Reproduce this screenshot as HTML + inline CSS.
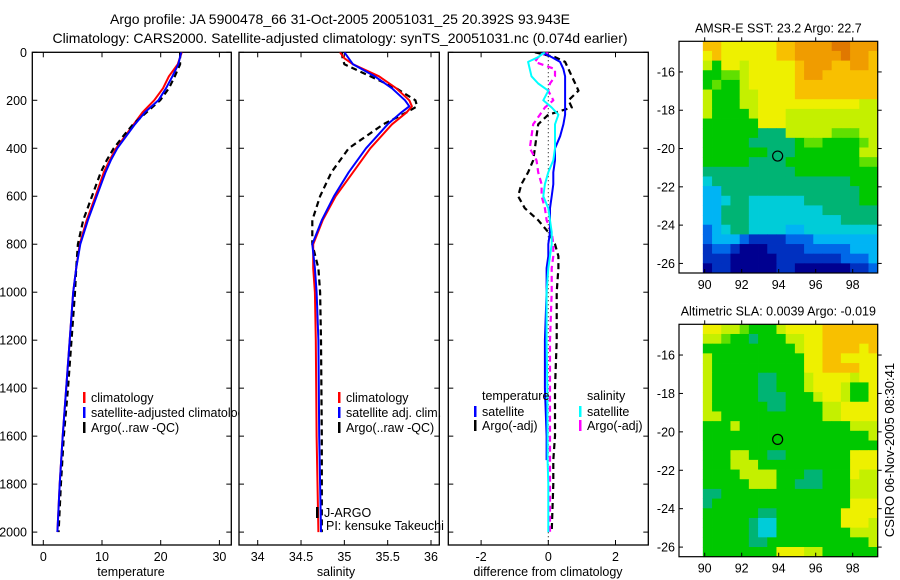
<!DOCTYPE html>
<html><head><meta charset="utf-8"><style>
html,body{margin:0;padding:0;background:#fff;}
svg{display:block;font-family:"Liberation Sans",Arial,sans-serif;}
</style></head><body>
<svg id="fig" width="900" height="580" viewBox="0 0 900 580">
<text x="340" y="24" font-size="14" text-anchor="middle">Argo profile: JA 5900478_66 31-Oct-2005 20051031_25 20.392S 93.943E</text>
<text x="340" y="43" font-size="14" text-anchor="middle">Climatology: CARS2000. Satellite-adjusted climatology: synTS_20051031.nc (0.074d earlier)</text>
<defs>
<clipPath id="c1"><rect x="32.3" y="52.3" width="199" height="492.7"/></clipPath>
<clipPath id="c1l"><rect x="32.3" y="52.3" width="207" height="492.7"/></clipPath>
<clipPath id="c2"><rect x="239" y="52.3" width="200.3" height="492.7"/></clipPath>
<clipPath id="c3"><rect x="448.3" y="52.3" width="200" height="492.7"/></clipPath>
</defs>
<g id="p1"></g>
<g id="p2"></g>
<g id="p3"></g>
<g id="m1"></g>
<g id="m2"></g>
<text x="0" y="0" font-size="13" transform="translate(894,450) rotate(-90)" text-anchor="middle">CSIRO 06-Nov-2005 08:30:41</text>
</svg>
<script>
// ---- profile data ----
const depthT = [0,50,100,150,200,250,300,350,400,450,500,600,700,800,900,1000,1200,1400,1600,1800,2000];
const tempClim = [23.6,22.9,21.4,20.4,18.9,16.9,15.4,13.9,12.4,11.3,10.3,8.9,7.4,6.2,5.6,5.1,4.5,3.9,3.3,2.8,2.4];
const tempSat  = [23.5,23.0,22.0,20.9,19.6,17.3,15.6,14.1,12.6,11.5,10.6,9.1,7.6,6.3,5.6,5.1,4.5,3.9,3.3,2.8,2.4];
const tempArgo = [23.3,23.3,22.4,21.4,19.9,17.6,15.3,13.6,12.0,10.8,9.8,8.3,6.8,5.9,5.6,5.4,4.8,4.2,3.5,3.0,2.6];
const depthS = [0,25,50,100,150,200,225,250,300,400,500,600,700,800,900,1000,1200,1600,2000];
const salClim = [34.95,35.0,35.1,35.4,35.6,35.75,35.78,35.72,35.55,35.3,35.1,34.9,34.75,34.64,34.64,34.66,34.67,34.68,34.7];
const salSat  = [35.0,35.05,35.1,35.35,35.55,35.7,35.75,35.66,35.5,35.25,35.05,34.88,34.74,34.63,34.66,34.68,34.7,34.71,34.73];
const salArgo = [34.97,34.98,35.0,35.3,35.6,35.82,35.84,35.72,35.45,35.05,34.85,34.72,34.63,34.63,34.7,34.72,34.73,34.74,34.74];
const depthD = [0,20,40,70,100,130,160,200,230,260,300,350,400,450,500,550,600,650,700,750,800,850,900,1000,1200,1400,1600,1700,1800,2000];
const dTempSat  = [-0.2,0.1,0.35,0.45,0.5,0.5,0.5,0.5,0.5,0.5,0.45,0.35,0.2,0.2,0.15,0.15,0.1,0.05,0.05,0.05,0.0,0.0,-0.05,-0.05,-0.1,-0.1,-0.05,-0.05,null,null];
const dTempArgo = [-0.4,0.2,0.5,0.6,0.7,0.8,0.9,0.6,0.7,0.0,-0.3,-0.35,-0.4,-0.45,-0.6,-0.8,-0.9,-0.7,-0.3,0.0,0.2,0.3,0.3,0.25,0.25,0.2,0.2,0.15,0.15,0.1];
const dSalSat   = [-0.1,-0.3,-0.6,-0.55,-0.5,-0.3,0.0,-0.15,0.1,0.3,0.2,0.2,0.2,0.15,0.0,-0.1,-0.15,0.0,0.05,0.1,0.1,0.05,0.0,-0.05,-0.05,-0.03,-0.02,-0.02,0.0,0.0];
const dSalArgo  = [0.0,-0.3,-0.4,0.2,0.2,0.05,0.0,0.15,-0.1,-0.25,-0.45,-0.5,-0.55,-0.35,-0.3,-0.2,-0.2,-0.1,-0.05,0.1,0.15,0.15,0.1,0.1,0.05,0.05,0.05,0.05,0.05,0.05];
const depthTicks = [0,200,400,600,800,1000,1200,1400,1600,1800,2000];
const tempTicks = [0,10,20,30];
const salTicks = [34,34.5,35,35.5,36];
const salTickLabels = ["34","34.5","35","35.5","36"];
const diffTicks = [-2,0,2];

const NS="http://www.w3.org/2000/svg";
function mk(parent,tag,attrs,txt){const e=document.createElementNS(NS,tag);for(const k in attrs)e.setAttribute(k,attrs[k]);if(txt!==undefined)e.textContent=txt;parent.appendChild(e);return e;}
const yD = d => 52.3 + d*0.2399;
const yTop=52.3, yBot=545;

function frame(g,x0,x1,xs,ticks,labels,name,showY){
  const r=mk(g,'rect',{x:x0,y:yTop,width:x1-x0,height:yBot-yTop,fill:'none',stroke:'#000','stroke-width':1.3});
  
  
  ticks.forEach((t,i)=>{
    const x=xs(t);
    mk(g,'line',{x1:x,x2:x,y1:yBot,y2:yBot-5,stroke:'#000'});
    mk(g,'line',{x1:x,x2:x,y1:yTop,y2:yTop+5,stroke:'#000'});
    const tl=mk(g,'text',{x:x,y:yBot+16,'font-size':12.5,'text-anchor':'middle'},labels[i]);
    
    
  });
  depthTicks.forEach(d=>{
    const y=yD(d);
    mk(g,'line',{x1:x0,x2:x0+5,y1:y,y2:y,stroke:'#000'});
    mk(g,'line',{x1:x1,x2:x1-5,y1:y,y2:y,stroke:'#000'});
    if(showY){
      const yl=mk(g,'text',{x:27,y:y+4.5,'font-size':12.5,'text-anchor':'end'},String(d));
      
      
    }
  });
}
function curve(g,xs,vals,depths,color,dash,w,clip,name){
  let d='',pen=false;
  vals.forEach((v,i)=>{ if(v===null){pen=false;return;} d+=(pen?'L':'M')+xs(v).toFixed(1)+','+yD(depths[i]).toFixed(1); pen=true;});
  const p=mk(g,'path',{d:d,fill:'none',stroke:color,'stroke-width':w,'clip-path':'url(#'+clip+')','stroke-linejoin':'round'});
  if(dash)p.setAttribute('stroke-dasharray',dash);
  
  
}
function legend(g,x,y,color,label,name,clip){
  mk(g,'rect',{x:x,y:y-9,width:2.5,height:11,fill:color});
  const t=mk(g,'text',{x:x+8,y:y+1,'font-size':12.5},label);
  if(clip)t.setAttribute('clip-path','url(#'+clip+')');
  
  
}

// Panel 1
const p1=document.getElementById('p1');
const xT = v => 43.3 + v*5.87;
frame(p1,32.3,231.3,xT,tempTicks,tempTicks.map(String),'temperature',true);
curve(p1,xT,tempClim,depthT,'#f00',null,2,'c1','temp-climatology-line');
curve(p1,xT,tempArgo,depthT,'#000','6,4',2.2,'c1','temp-argo-line');
curve(p1,xT,tempSat,depthT,'#00f',null,2,'c1','temp-satellite-line');
mk(p1,'text',{x:131,y:588,'font-size':12.5,'text-anchor':'middle'},'temperature');
const t1=p1.lastChild; t1.setAttribute('y',576); 
legend(p1,83,401,'#f00','climatology','legend-climatology');
legend(p1,83,416,'#00f','satellite-adjusted climatology','legend-satellite-adjusted','c1l');
legend(p1,83,431,'#000','Argo(..raw -QC)','legend-argo');

// Panel 2
const p2=document.getElementById('p2');
const xS = v => 257.7 + (v-34)*86.65;
frame(p2,239,439.3,xS,salTicks,salTickLabels,'salinity',false);
curve(p2,xS,salArgo,depthS,'#000','6,4',2.2,'c2','sal-argo-line');
curve(p2,xS,salClim,depthS,'#f00',null,2,'c2','sal-climatology-line');
curve(p2,xS,salSat,depthS,'#00f',null,2,'c2','sal-satellite-line');
const t2=mk(p2,'text',{x:336,y:576,'font-size':12.5,'text-anchor':'middle'},'salinity');
 
legend(p2,338,401,'#f00','climatology','legend2-climatology');
legend(p2,338,416,'#00f','satellite adj. clim.','legend2-satellite');
legend(p2,338,431,'#000','Argo(..raw -QC)','legend2-argo');
legend(p2,316,516,'#000','J-ARGO','institution-label');
const pi=mk(p2,'text',{x:326,y:530,'font-size':12.5},'PI: kensuke Takeuchi');
 

// Panel 3
const p3=document.getElementById('p3');
const xDf = v => 548.3 + v*33.6;
frame(p3,448.3,648.3,xDf,diffTicks,diffTicks.map(String),'difference',false);
mk(p3,'line',{x1:xDf(0),x2:xDf(0),y1:yTop,y2:yBot,stroke:'#000','stroke-dasharray':'1,3'});
curve(p3,xDf,dTempArgo,depthD,'#000','6,4',2.2,'c3','diff-temp-argo-line');
curve(p3,xDf,dSalArgo,depthD,'#f0f','6,4',2.2,'c3','diff-sal-argo-line');
curve(p3,xDf,dTempSat,depthD,'#00f',null,2,'c3','diff-temp-satellite-line');
curve(p3,xDf,dSalSat,depthD,'#0ff',null,2,'c3','diff-sal-satellite-line');
const t3=mk(p3,'text',{x:548,y:576,'font-size':12.5,'text-anchor':'middle'},'difference from climatology');
 
const lt=mk(p3,'text',{x:482,y:400,'font-size':12.5},'temperature');
 
const ls=mk(p3,'text',{x:587,y:400,'font-size':12.5},'salinity');
 
legend(p3,474,415,'#00f','satellite','legend-temp-satellite');
legend(p3,474,429,'#000','Argo(-adj)','legend-temp-argo');
legend(p3,579,415,'#0ff','satellite','legend-sal-satellite');
legend(p3,579,429,'#f0f','Argo(-adj)','legend-sal-argo');

// ---- maps ----
const sstRows = [
"AA999999AABBBBCCBBB","9A999999AABBBBBCBBA","8699899999ABBBAABBA","6677899999ABBAAAAAA",
"6766899999AAAAAAAAA","8666889999AAAAAAAAA","8666889999999999988","8666689998888888888",
"6666669998888888888","6666665558888877788","6666655555677666678","6666666555666666688",
"6666655556666666677","5555555555666666666","4555555555555555666","3355555555555555566",
"3345544444455555566","3355544444444555555","3355544444444445555","2345544443344444444",
"2333211112223333333","1221000111122222333","1110000011111112223","0110000011000000112"];
const slaRows = [
"9988766689999AAAAAA","8876656668899AAAAAA","6666666666899AAAA9A","8666666666699AA9999",
"8666666666699AAAA99","8666665566689999899","8666665566689998669","8666665556668998669",
"8666666556666889999","8866666666666889999","6668666666666666888","6666666666666666668",
"6666666666666666666","6668866556666666999","6668886666666666999","6666888866655666988",
"6666688866555666888","5566666666666666888","5666666666666666999","6666665566666669999",
"6666654466666669998","6666654466666666888","6666655666666666668","6666666699988666666"];
const palette = {"0":"#000090","1":"#0030c0","2":"#0068e8","3":"#00b4f4","4":"#00ccd8","5":"#00b474","6":"#00c800","7":"#60e000","8":"#c4f000","9":"#eef000","A":"#f8c000","B":"#f09c00","C":"#e07800"};
const lonTicks=[90,92,94,96,98];
const latTicks=[-16,-18,-20,-22,-24,-26];
const argoLon=93.943, argoLat=-20.392;
const mapTitles=["AMSR-E SST: 23.2 Argo: 22.7","Altimetric SLA: 0.0039 Argo: -0.019"];

function drawMap(g,rows,top,bottom,title,name){
  const L=679, R=877.7;
  const lonX = lon => 852.7 + (lon-98)*18.5;
  const latToY = lat => top + (-14.4-lat)*(bottom-top)/12.1;
  const nr=rows.length, nc=rows[0].length;
  const cw=(R-lonX(89.9))/nc, rh=(bottom-top)/nr;
  rows.forEach((row,i)=>{
    for(let j=0;j<nc;j++){
      const c=mk(g,'rect',{x:(lonX(89.9)+j*cw).toFixed(2),y:(top+i*rh).toFixed(2),width:(cw+0.4).toFixed(2),height:(rh+0.4).toFixed(2),fill:palette[row[j]]});
      
      
    }
  });
  const b=mk(g,'rect',{x:L,y:top,width:R-L,height:bottom-top,fill:'none',stroke:'#000','stroke-width':1.2});
   
  lonTicks.forEach(l=>{
    const x=lonX(l);
    mk(g,'line',{x1:x,x2:x,y1:top,y2:top-4,stroke:'#000'});
    mk(g,'line',{x1:x,x2:x,y1:bottom,y2:bottom-4,stroke:'#000'});
    const t=mk(g,'text',{x:x,y:bottom+16,'font-size':12.5,'text-anchor':'middle'},String(l));
     
  });
  latTicks.forEach(l=>{
    const y=latToY(l);
    mk(g,'line',{x1:L,x2:L+4,y1:y,y2:y,stroke:'#000'});
    mk(g,'line',{x1:R,x2:R+4,y1:y,y2:y,stroke:'#000'});
    const t=mk(g,'text',{x:675,y:y+4.5,'font-size':12.5,'text-anchor':'end'},String(l));
     
  });
  const c=mk(g,'circle',{cx:lonX(argoLon),cy:latToY(argoLat),r:5,fill:'none',stroke:'#000','stroke-width':1.2});
   
  const t=mk(g,'text',{x:(L+R)/2,y:top-9,'font-size':12.5,'text-anchor':'middle'},title);
   
}
drawMap(document.getElementById('m1'),sstRows,41.3,273,mapTitles[0],'sst-map');
drawMap(document.getElementById('m2'),slaRows,324.3,556.7,mapTitles[1],'sla-map');
</script>
</body></html>
